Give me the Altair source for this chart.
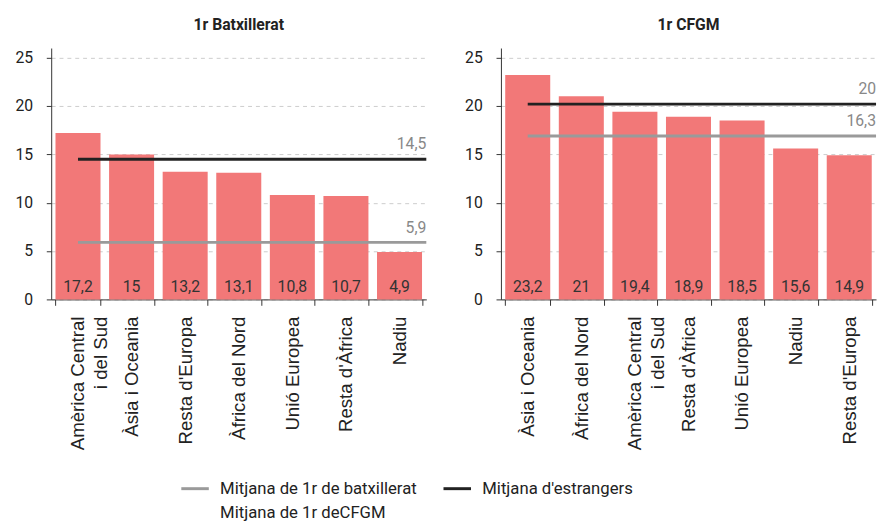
import altair as alt
import pandas as pd

# ---- data ----
left_title = "1r Batxillerat"
left_cats = ["Amèrica Central|i del Sud", "Àsia i Oceania", "Resta d'Europa",
             "Àfrica del Nord", "Unió Europea", "Resta d'Àfrica", "Nadiu"]
left_vals = [17.2, 15, 13.2, 13.1, 10.8, 10.7, 4.9]
left_mean_series = ["Mitjana de 1r de batxillerat", "Mitjana d'estrangers"]
left_mean_vals = [5.9, 14.5]
left_mean_labels = ["5,9", "14,5"]

right_title = "1r CFGM"
right_cats = ["Àsia i Oceania", "Àfrica del Nord", "Amèrica Central|i del Sud",
              "Resta d'Àfrica", "Unió Europea", "Nadiu", "Resta d'Europa"]
right_vals = [23.2, 21, 19.4, 18.9, 18.5, 15.6, 14.9]
right_mean_series = ["Mitjana de 1r deCFGM", "Mitjana d'estrangers"]
right_mean_vals = [16.9, 20.2]
right_mean_labels = ["16,3", "20"]

legend_series = ["Mitjana de 1r de batxillerat", "Mitjana d'estrangers", "Mitjana de 1r deCFGM"]
legend_colors = ["#9a9a9a", "#222222", "rgba(0,0,0,0)"]
y_ticks = [0, 5, 10, 15, 20, 25]

BAR = "#F27878"
GRAY = "#9a9a9a"
W, H = 382, 256
color_scale = alt.Scale(domain=legend_series, range=legend_colors)


def fmt(v):
    return f"{v:g}".replace(".", ",")


def panel(title, cats, vals, ms, mv, ml, show_legend):
    bars_df = pd.DataFrame({"cat": cats, "val": vals, "txt": [fmt(v) for v in vals]})
    mean_df = pd.DataFrame({"serie": ms, "val": mv, "txt": ml, "start": [cats[0]] * len(ms)})
    xscale = alt.Scale(domain=cats, paddingInner=0.16, paddingOuter=0.08)
    xaxis = alt.Axis(labelAngle=270, labelExpr="split(datum.label, '|')",
                     labelFont="Liberation Sans", labelFontSize=19, labelColor="#222",
                     labelLineHeight=23, tickBand="extent", tickSize=6,
                     domainColor="#333", tickColor="#333", labelPadding=11,
                     grid=False, labelAlign="right", labelBaseline="middle",
                     labelOverlap=False, labelLimit=300)
    yaxis = alt.Axis(values=y_ticks, gridDash=[4, 4], gridColor="#cccccc",
                     domainColor="#333", tickColor="#333", tickSize=5, labelPadding=14,
                     labelFont="Roboto", labelFontSize=16, labelColor="#222")
    x = alt.X("cat:N", sort=cats, scale=xscale, axis=xaxis, title=None)
    y = alt.Y("val:Q", scale=alt.Scale(domain=[0, 25]), axis=yaxis, title=None)

    bars = alt.Chart(bars_df).mark_bar(color=BAR).encode(x=x, y=y)
    vtext = alt.Chart(bars_df).mark_text(baseline="bottom", dy=-5, font="Roboto",
                                         fontSize=16, color="#333").encode(
        x=alt.X("cat:N", sort=cats, title=None), y=alt.datum(0), text="txt:N")

    if show_legend:
        leg = alt.Legend(title=None, orient="none", legendX=131, legendY=433,
                         columns=2, direction="horizontal", symbolType="stroke",
                         symbolStrokeWidth=3, symbolSize=784, labelFont="Roboto",
                         labelFontSize=17, labelColor="#222", columnPadding=20,
                         rowPadding=1, labelOffset=10, labelLimit=400,
                         values=legend_series)
        col = alt.Color("serie:N", scale=color_scale, legend=leg)
    else:
        col = alt.Color("serie:N", scale=color_scale, legend=None)
    color = alt.condition(alt.datum.serie == "Mitjana de 1r deCFGM", alt.value(GRAY), col)
    rules = alt.Chart(mean_df).mark_rule(strokeWidth=3).encode(
        x=alt.X("start:N", bandPosition=0.5, title=None), x2=alt.value("width"),
        y="val:Q", color=color)
    mtext = alt.Chart(mean_df).mark_text(align="right", baseline="bottom", dy=-7,
                                         font="Roboto", fontSize=16, color="#888").encode(
        x=alt.value("width"), y="val:Q", text="txt:N")
    return alt.layer(bars, vtext, rules, mtext).properties(
        width=W, height=H, title=title)


left = panel(left_title, left_cats, left_vals, left_mean_series, left_mean_vals,
             left_mean_labels, True)
right = panel(right_title, right_cats, right_vals, right_mean_series, right_mean_vals,
              right_mean_labels, False)

chart = alt.hconcat(left, right, spacing=37).resolve_scale(color="shared").properties(
    padding={"left": 7, "top": 5, "right": 0, "bottom": 0}
).configure_view(stroke=None).configure_title(
    font="Roboto", fontSize=16, fontWeight="bold", color="#222", offset=15
)

chart.save("out.html", embed_options={"renderer": "svg", "actions": False})
